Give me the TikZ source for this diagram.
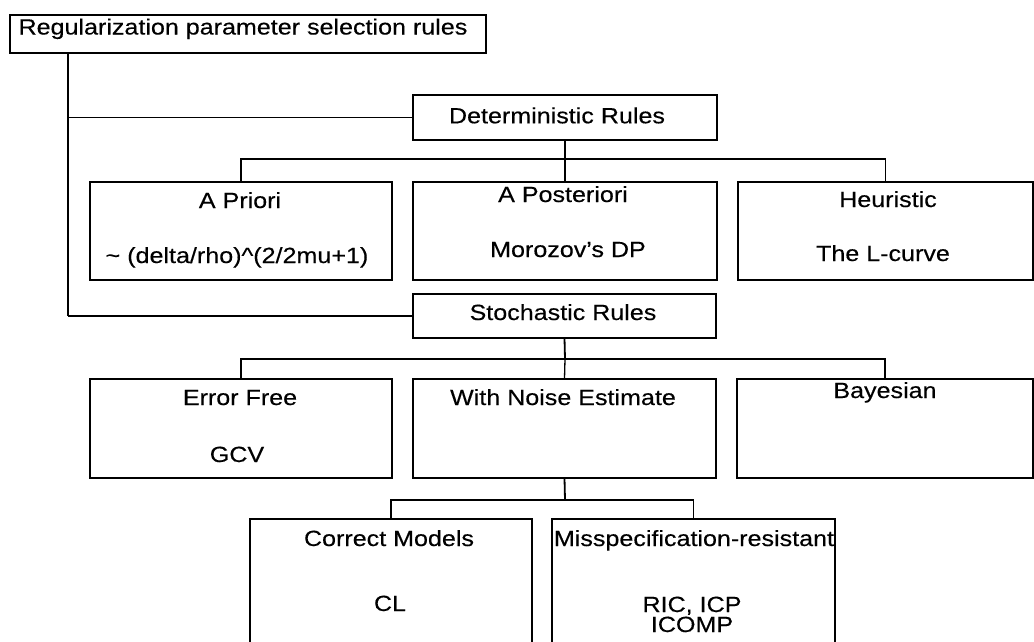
\documentclass[tikz,border=0pt]{standalone}
\usepackage{fontspec}
\setmainfont[FakeStretch=1.14,FakeBold=0.3]{Liberation Sans}
\begin{document}
\begin{tikzpicture}[x=1pt,y=-1pt,
  box/.style={draw, line width=1.8pt, inner sep=0pt, outer sep=0pt},
  conn/.style={line width=1.3pt},
  trunk/.style={line width=1.8pt},
  txt/.style={anchor=base, inner sep=0pt, font=\fontsize{22}{26}\selectfont}]
\useasboundingbox (0,0) rectangle (1034,641);
\clip (0,0) rectangle (1034,641);
% boxes
\node[box, minimum width=476pt, minimum height=38pt] (top) at (248,34) {};
\node[box, minimum width=304pt, minimum height=45pt] (det) at (565,117.5) {};
\node[box, minimum width=302pt, minimum height=98pt] (apri) at (241,231) {};
\node[box, minimum width=304pt, minimum height=98pt] (apost) at (565,231) {};
\node[box, minimum width=295pt, minimum height=98pt] (heur) at (885.5,231) {};
\node[box, minimum width=303pt, minimum height=44pt] (stoch) at (564.5,316) {};
\node[box, minimum width=302pt, minimum height=99pt] (ef) at (241,428.5) {};
\node[box, minimum width=303pt, minimum height=99pt] (wn) at (564.5,428.5) {};
\node[box, minimum width=296pt, minimum height=99pt] (bay) at (885,428.5) {};
\node[box, minimum width=282pt, minimum height=161pt] (cm) at (391,599.5) {};
\node[box, minimum width=283pt, minimum height=161pt] (ms) at (693.5,599.5) {};
% texts
\node[txt] (t0) at (243,34.5) {Regularization parameter selection rules};
\node[txt] (t1) at (557,123.3) {Deterministic Rules};
\node[txt] (t2) at (240,208) {A Priori};
\node[txt] (t3) at (237,263) {\textasciitilde\ (delta/rho)\textasciicircum(2/2mu+1)};
\node[txt] (t4) at (563,202) {A Posteriori};
\node[txt] (t5) at (568,257) {Morozov's DP};
\node[txt] (t6) at (888,207) {Heuristic};
\node[txt] (t7) at (883,261) {The L-curve};
\node[txt] (t8) at (563,320) {Stochastic Rules};
\node[txt] (t9) at (240,405) {Error Free};
\node[txt] (t10) at (237,462) {GCV};
\node[txt] (t11) at (563,405) {With Noise Estimate};
\node[txt] (t12) at (885,398) {Bayesian};
\node[txt] (t13) at (389,546) {Correct Models};
\node[txt] (t14) at (390,611) {CL};
\node[txt] (t15) at (694,546) {Misspecification-resistant};
\node[txt] (t16) at (692,612) {RIC, ICP};
\node[txt] (t17) at (692,632) {ICOMP};
% connectors
\coordinate (tk) at (68,316);
\coordinate (b1) at (565,159);
\coordinate (b2) at (565,359);
\coordinate (b3) at (565,500);
\draw[trunk] (top.south -| tk) -- (tk);
\draw[conn] (top.south -| tk) |- (det.west);
\draw[conn] (tk) -- (stoch.west);
\draw[trunk] (det.south) -- (b1);
\draw[conn] (b1) -- (apost.north);
\draw[conn] (apri.north) |- (b1) -| (heur.north);
\draw[trunk] (stoch.south) -- (b2);
\draw[conn] (b2) -- (wn.north);
\draw[conn] (ef.north) |- (b2) -| (bay.north);
\draw[trunk] (wn.south) -- (b3);
\draw[conn] (cm.north) |- (b3) -| (ms.north);
\end{tikzpicture}
\end{document}
